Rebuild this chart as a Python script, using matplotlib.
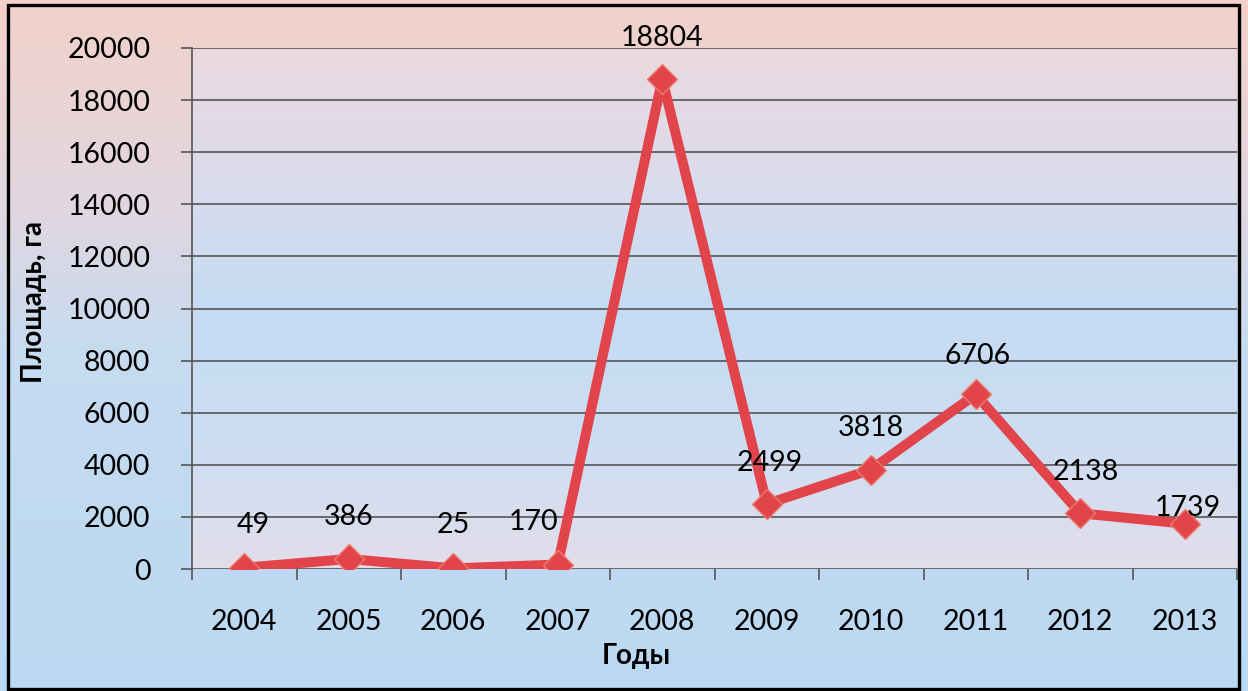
import matplotlib
matplotlib.use("Agg")
import matplotlib.pyplot as plt
import numpy as np
from matplotlib.colors import LinearSegmentedColormap
from matplotlib.patches import Rectangle

years = ["2004", "2005", "2006", "2007", "2008", "2009", "2010", "2011", "2012", "2013"]
area = [49, 386, 25, 170, 18804, 2499, 3818, 6706, 2138, 1739]
y_ticks = [0, 2000, 4000, 6000, 8000, 10000, 12000, 14000, 16000, 18000, 20000]
x_label = "Годы"
y_label = "Площадь, га"

# label offsets in pixels (style only)
label_offsets = [(9, 43), (0, 42), (0, 43), (-24, 43), (0, 41), (3, 41), (0, 42), (2, 38), (5, 41), (3, 16)]

plt.rcParams['font.family'] = ['Lato', 'DejaVu Sans']

W, H = 1248, 691
fig = plt.figure(figsize=(W / 100, H / 100), dpi=100)

# figure background gradient
bg = fig.add_axes([0, 0, 1, 1], zorder=-10)
bg_cmap = LinearSegmentedColormap.from_list("bg", [
    (0.0, (0.95, 0.82, 0.79)),
    (0.30, (0.88, 0.84, 0.88)),
    (0.50, (0.78, 0.86, 0.94)),
    (1.0, (0.73, 0.85, 0.95)),
])
grad = np.linspace(0, 1, 256).reshape(-1, 1)
bg.imshow(grad, aspect='auto', cmap=bg_cmap, extent=[0, 1, 0, 1], origin='upper')
bg.set_xlim(0, 1)
bg.set_ylim(0, 1)
bg.axis('off')
bg.add_patch(Rectangle((8 / W, 1 - 689 / H), (1239 - 8) / W, (689 - 5) / H,
                       fill=False, edgecolor='black', linewidth=2.4))

ax = fig.add_axes([192 / W, 1 - 569 / H, (1237 - 192) / W, (569 - 48) / H])
ax.set_facecolor('none')
pa_cmap = LinearSegmentedColormap.from_list("pa", [
    (0.0, (0.92, 0.85, 0.87)),
    (0.25, (0.86, 0.86, 0.93)),
    (0.50, (0.77, 0.86, 0.95)),
    (0.75, (0.80, 0.87, 0.95)),
    (1.0, (0.89, 0.87, 0.92)),
])
ax.imshow(grad, aspect='auto', cmap=pa_cmap, extent=[0, 1, 0, 1], origin='upper',
          transform=ax.transAxes, zorder=0)

x = np.arange(len(years))
ax.plot(x, area, color='#e2444c', linewidth=7.2, marker='D', markersize=15.5,
        markerfacecolor='#e2444c', markeredgecolor='#ee7c6c', markeredgewidth=1.0,
        zorder=5, solid_joinstyle='round')

for xi, v, (dx, dy) in zip(x, area, label_offsets):
    ax.annotate(str(v), (xi, v), xytext=(dx, dy), textcoords='offset pixels',
                ha='center', va='center', fontsize=20.5, color='black', zorder=6)

ax.set_xlim(-0.5, len(years) - 0.5)
ax.set_ylim(0, 20000)
ax.set_yticks(y_ticks)
ax.set_yticklabels([str(t) for t in y_ticks], fontsize=20.5)
ax.yaxis.grid(True, color='#555555', linewidth=1.2)
for gl in ax.yaxis.get_gridlines():
    gl.set_zorder(1)

ax.set_xticks(x)
ax.set_xticklabels(years, fontsize=20.5)
ax.set_xticks(np.arange(len(years) + 1) - 0.5, minor=True)
ax.tick_params(axis='x', which='major', length=0, pad=29)
ax.tick_params(axis='x', which='minor', length=8, width=1.2, color='#555555', direction='out')
ax.tick_params(axis='y', length=8, width=1.2, color='#555555', pad=22)

for side in ['top', 'right', 'bottom']:
    ax.spines[side].set_visible(False)
ax.spines['left'].set_color('#555555')
ax.spines['left'].set_linewidth(1.2)

fig.text(636 / W, 1 - 656 / H, x_label, fontsize=20, fontweight='bold', ha='center', va='center')
fig.text(34 / W, 1 - 302 / H, y_label, fontsize=20, fontweight='bold', ha='center', va='center',
         rotation=90)

fig.savefig("out.png", dpi=100)
